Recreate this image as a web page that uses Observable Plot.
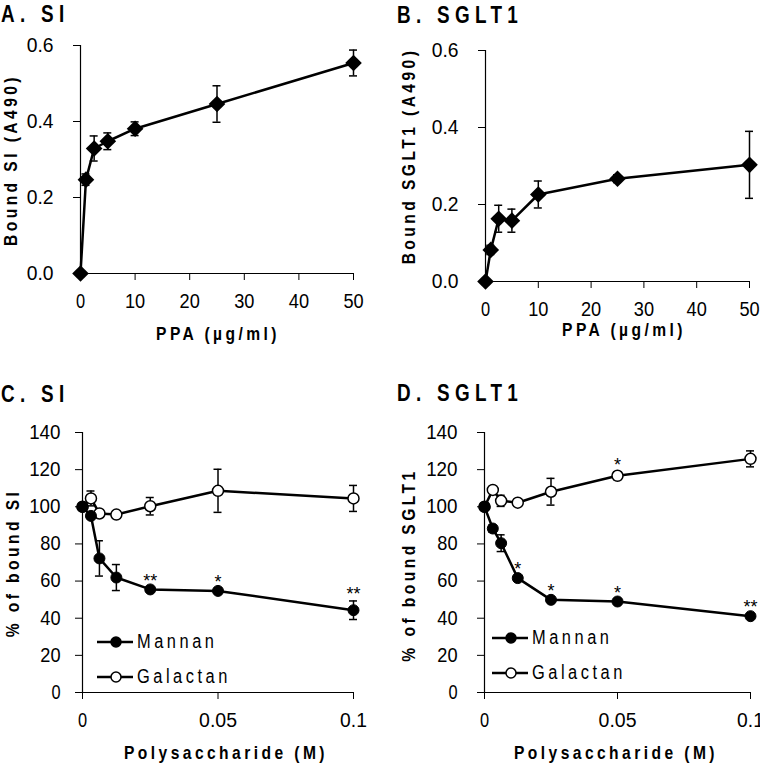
<!DOCTYPE html>
<html>
<head>
<meta charset="utf-8">
<script src="https://cdn.jsdelivr.net/npm/d3@7"></script>
<script src="https://cdn.jsdelivr.net/npm/@observablehq/plot@0.6"></script>
<style>
  html, body { margin: 0; padding: 0; background: #fff; }
  #root { position: relative; width: 760px; height: 765px; background: #fff; overflow: hidden;
          font-family: "Liberation Sans", Arial, sans-serif; color: #000; }
  .panel { position: absolute; }
  .panel svg { overflow: visible; display: block; }
  .title { position: absolute; font-weight: bold; font-size: 23px; letter-spacing: 6.5px; white-space: nowrap; line-height: 1;
           transform: scaleX(0.82); transform-origin: 0 50%; }
  .xlab, .ylab { position: absolute; font-weight: bold; font-size: 19px; letter-spacing: 4.2px; white-space: nowrap; line-height: 1; }
  .xlab { transform: translate(-50%, -50%) scaleX(0.82); }
  .ylab { transform: translate(-50%, -50%) rotate(-90deg) scaleX(0.82); }
  .legend { position: absolute; font-size: 20px; letter-spacing: 4.3px; }
  .legend .row { display: flex; align-items: center; height: 35px; white-space: nowrap; }
  .legend .row span { display: inline-block; transform: scaleX(0.82); transform-origin: 0 50%; }
  .legend svg { display: block; margin-right: 4px; }
</style>
</head>
<body>
<div id="root"></div>
<script>
// ---------- data ----------
const ppa = [0, 1, 2.5, 5, 10, 25, 50];
const siBound = [0, 0.247, 0.329, 0.348, 0.381, 0.446, 0.554];
const siBoundErr = [0, 0.015, 0.033, 0.022, 0.018, 0.048, 0.034];
const sgltBound = [0, 0.082, 0.163, 0.158, 0.226, 0.267, 0.303];
const sgltBoundErr = [0, 0.012, 0.035, 0.03, 0.035, 0.01, 0.087];

const polyConc = [0, 0.003125, 0.00625, 0.0125, 0.025, 0.05, 0.1];
const siMannan = [100, 95.1, 72.2, 61.9, 55.5, 54.7, 44.3];
const siMannanErr = [0, 1.5, 9.5, 7, 1, 1, 5];
const siMannanSig = ["", "", "", "", "**", "*", "**"];
const siGalactan = [100, 104.5, 96.4, 95.8, 100.3, 108.6, 104.5];
const siGalactanErr = [0, 4, 1, 1, 4.7, 11.6, 7];
const siGalactanSig = ["", "", "", "", "", "", ""];
const sgltMannan = [100, 88.3, 80.4, 61.6, 49.9, 49.0, 41.1];
const sgltMannanErr = [0, 2, 4.5, 1, 1, 1, 1];
const sgltMannanSig = ["", "", "", "*", "*", "*", "**"];
const sgltGalactan = [100, 109.1, 103.2, 102.2, 108.1, 116.7, 125.8];
const sgltGalactanErr = [0, 1.5, 3, 1, 7.2, 2, 4.3];
const sgltGalactanSig = ["", "", "", "", "", "*", ""];

const ppaTicks = [0, 10, 20, 30, 40, 50];
const boundTicks = [0, 0.2, 0.4, 0.6];
const polyTicks = [0, 0.05, 0.1];
const pctTicks = [0, 20, 40, 60, 80, 100, 120, 140];
const seriesNames = ["Mannan", "Galactan"];

// ---------- helpers ----------
const root = document.getElementById("root");
function rows(xs, ys, es, sig) {
  return xs.map((x, i) => ({x, y: ys[i], e: es[i], s: sig ? sig[i] : ""}));
}
function errMarks(data) {
  const d = data.filter(r => r.e > 0);
  return [
    Plot.ruleX(d, {x: "x", y1: r => r.y - r.e, y2: r => r.y + r.e, stroke: "black", strokeWidth: 1.5}),
    Plot.ruleY(d, {x1: "x", x2: "x", y: r => r.y + r.e, insetLeft: -4, insetRight: -4, stroke: "black", strokeWidth: 1.5}),
    Plot.ruleY(d, {x1: "x", x2: "x", y: r => r.y - r.e, insetLeft: -4, insetRight: -4, stroke: "black", strokeWidth: 1.5})
  ];
}
function sigMarks(data) {
  return Plot.text(data.filter(r => r.s), {x: "x", y: r => r.y + r.e, text: "s", dy: -1, lineAnchor: "bottom", fontSize: 18, fill: "black"});
}
// narrow the tick-label glyphs (the reference uses a condensed face) and add spacing
function condense(svg) {
  svg.querySelectorAll('g[aria-label$="tick label"] text').forEach(t => {
    const L = t.getComputedTextLength();
    const n = (t.textContent || "").length;
    if (L > 0) {
      t.setAttribute("textLength", (L * 0.82 + Math.max(0, n - 1) * 2).toFixed(2));
      t.setAttribute("lengthAdjust", "spacingAndGlyphs");
    }
  });
}
function addPanel(left, top, w, h, node) {
  const div = document.createElement("div");
  div.className = "panel";
  div.style.left = left + "px"; div.style.top = top + "px";
  div.style.width = w + "px"; div.style.height = h + "px";
  div.appendChild(node);
  root.appendChild(div);
  condense(node);
}
function addText(cls, text, x, y) {
  const d = document.createElement("div");
  d.className = cls; d.textContent = text;
  d.style.left = x + "px"; d.style.top = y + "px";
  root.appendChild(d);
}
const baseStyle = {fontFamily: "'Liberation Sans', Arial, sans-serif", fontSize: "20px", overflow: "visible", background: "transparent", color: "black"};

function ppaPlot(ys, es, m) {
  const data = rows(ppa, ys, es);
  return Plot.plot({
    width: 380, height: m.height,
    marginLeft: m.left, marginRight: m.right, marginTop: m.top, marginBottom: m.bottom,
    style: baseStyle,
    x: {domain: [0, 50]},
    y: {domain: [0, 0.6]},
    marks: [
      Plot.axisX({ticks: ppaTicks, tickSize: 7, tickPadding: 13, label: null, tickFormat: d3.format("d")}),
      Plot.axisY({ticks: boundTicks, tickSize: 7, tickPadding: m.pad, label: null, tickFormat: d3.format(".1f")}),
      Plot.ruleX([0], {stroke: "black", strokeWidth: 1.2}),
      Plot.ruleY([0], {stroke: "black", strokeWidth: 1.2}),
      ...errMarks(data),
      Plot.line(data, {x: "x", y: "y", stroke: "black", strokeWidth: 2.5}),
      Plot.dot(data, {x: "x", y: "y", symbol: "diamond2", r: 7.5, fill: "black", stroke: "none"})
    ]
  });
}
function polyPlot(man, manE, manS, gal, galE, galS, m) {
  const dm = rows(polyConc, man, manE, manS);
  const dg = rows(polyConc, gal, galE, galS);
  return Plot.plot({
    width: 380, height: m.height,
    marginLeft: m.left, marginRight: m.right, marginTop: m.top, marginBottom: m.bottom,
    style: baseStyle,
    x: {domain: [0, 0.1]},
    y: {domain: [0, 140]},
    marks: [
      Plot.axisX({ticks: polyTicks, tickSize: 7, tickPadding: 13, label: null, tickFormat: d => String(d)}),
      Plot.axisY({ticks: pctTicks, tickSize: 7, tickPadding: m.pad, label: null}),
      Plot.ruleX([0], {stroke: "black", strokeWidth: 1.2}),
      Plot.ruleY([0], {stroke: "black", strokeWidth: 1.2}),
      ...errMarks(dg),
      ...errMarks(dm),
      Plot.line(dg, {x: "x", y: "y", stroke: "black", strokeWidth: 2.5}),
      Plot.line(dm, {x: "x", y: "y", stroke: "black", strokeWidth: 2.5}),
      Plot.dot(dg, {x: "x", y: "y", r: 5.5, fill: "white", stroke: "black", strokeWidth: 1.5}),
      Plot.dot(dm, {x: "x", y: "y", r: 5.5, fill: "black", stroke: "black", strokeWidth: 1}),
      sigMarks(dm),
      sigMarks(dg)
    ]
  });
}
function legend(x, y) {
  const lg = document.createElement("div");
  lg.className = "legend";
  lg.style.left = x + "px"; lg.style.top = y + "px";
  seriesNames.forEach((name, i) => {
    const row = document.createElement("div");
    row.className = "row";
    const ns = "http://www.w3.org/2000/svg";
    const s = document.createElementNS(ns, "svg");
    s.setAttribute("width", 36); s.setAttribute("height", 14);
    const ln = document.createElementNS(ns, "line");
    ln.setAttribute("x1", 0); ln.setAttribute("x2", 36); ln.setAttribute("y1", 7); ln.setAttribute("y2", 7);
    ln.setAttribute("stroke", "black"); ln.setAttribute("stroke-width", 2.5);
    const c = document.createElementNS(ns, "circle");
    c.setAttribute("cx", 19); c.setAttribute("cy", 7); c.setAttribute("r", 5);
    c.setAttribute("fill", i === 0 ? "black" : "white"); c.setAttribute("stroke", "black"); c.setAttribute("stroke-width", 1.5);
    s.appendChild(ln); s.appendChild(c);
    const t = document.createElement("span"); t.textContent = name;
    row.appendChild(s); row.appendChild(t);
    lg.appendChild(row);
  });
  root.appendChild(lg);
}

// ---------- panels ----------
addPanel(0, 0, 380, 380, ppaPlot(siBound, siBoundErr, {height: 380, left: 80, right: 27, top: 45, bottom: 107, pad: 20}));
addPanel(380, 0, 380, 380, ppaPlot(sgltBound, sgltBoundErr, {height: 380, left: 105, right: 11, top: 50, bottom: 99, pad: 20}));
addPanel(0, 380, 380, 385, polyPlot(siMannan, siMannanErr, siMannanSig, siGalactan, siGalactanErr, siGalactanSig,
  {height: 385, left: 82, right: 27, top: 52, bottom: 73, pad: 15}));
addPanel(380, 380, 380, 385, polyPlot(sgltMannan, sgltMannanErr, sgltMannanSig, sgltGalactan, sgltGalactanErr, sgltGalactanSig,
  {height: 385, left: 104, right: 10, top: 52, bottom: 73, pad: 20}));

// titles
addText("title", "A. SI", 1, 3);
addText("title", "B. SGLT1", 397, 4);
addText("title", "C. SI", 1, 383);
addText("title", "D. SGLT1", 397, 382);
// axis labels
addText("xlab", "PPA (µg/ml)", 218, 333);
addText("xlab", "PPA (µg/ml)", 624, 329);
addText("xlab", "Polysaccharide (M)", 226, 752);
addText("xlab", "Polysaccharide (M)", 616, 752);
addText("ylab", "Bound SI (A490)", 10, 160);
addText("ylab", "Bound SGLT1 (A490)", 408, 156);
addText("ylab", "% of bound SI", 12, 563);
addText("ylab", "% of bound SGLT1", 408, 565);
// legends
legend(97, 624);
legend(492, 620);
</script>
</body>
</html>
